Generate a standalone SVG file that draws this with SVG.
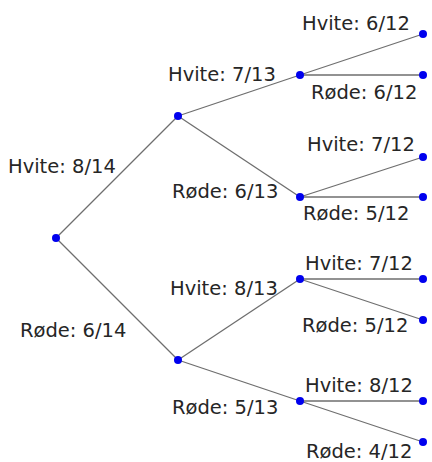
<svg xmlns="http://www.w3.org/2000/svg" width="432" height="462" viewBox="0 0 432 462">
  <style>
    .edge { stroke: #6e6e6e; stroke-width: 1.3; fill: none; }
    .dot { fill: #0000ee; }
    .lbl { font-family: "DejaVu Sans", sans-serif; font-size: 19.5px; fill: #262626; }
  </style>
  <rect width="432" height="462" fill="#fff"/>
  <g id="connectors">
    <line class="edge" x1="56" y1="238" x2="178" y2="116"/>
    <line class="edge" x1="56" y1="238" x2="178" y2="360"/>
    <line class="edge" x1="178" y1="116" x2="300" y2="75"/>
    <line class="edge" x1="178" y1="116" x2="300" y2="197"/>
    <line class="edge" x1="178" y1="360" x2="300" y2="279"/>
    <line class="edge" x1="178" y1="360" x2="300" y2="401"/>
    <line class="edge" x1="300" y1="75" x2="423" y2="34"/>
    <line class="edge" x1="300" y1="75" x2="423" y2="75"/>
    <line class="edge" x1="300" y1="197" x2="423" y2="157"/>
    <line class="edge" x1="300" y1="197" x2="423" y2="197"/>
    <line class="edge" x1="300" y1="279" x2="423" y2="279"/>
    <line class="edge" x1="300" y1="279" x2="423" y2="320"/>
    <line class="edge" x1="300" y1="401" x2="423" y2="401"/>
    <line class="edge" x1="300" y1="401" x2="423" y2="442"/>
  </g>
  <g id="labels">
    <text class="lbl" x="8" y="173">Hvite: 8/14</text>
    <text class="lbl" x="20" y="337">Røde: 6/14</text>
    <text class="lbl" x="168" y="81">Hvite: 7/13</text>
    <text class="lbl" x="172" y="198">Røde: 6/13</text>
    <text class="lbl" x="170" y="295">Hvite: 8/13</text>
    <text class="lbl" x="172" y="414">Røde: 5/13</text>
    <text class="lbl" x="302" y="30">Hvite: 6/12</text>
    <text class="lbl" x="311" y="99">Røde: 6/12</text>
    <text class="lbl" x="307" y="151">Hvite: 7/12</text>
    <text class="lbl" x="303" y="220">Røde: 5/12</text>
    <text class="lbl" x="305" y="270">Hvite: 7/12</text>
    <text class="lbl" x="302" y="332">Røde: 5/12</text>
    <text class="lbl" x="305" y="392">Hvite: 8/12</text>
    <text class="lbl" x="306" y="458">Røde: 4/12</text>
  </g>
  <g id="n0"><circle class="dot" cx="56" cy="238" r="4"/></g>
  <g id="n1"><circle class="dot" cx="178" cy="116" r="4"/></g>
  <g id="n2"><circle class="dot" cx="178" cy="360" r="4"/></g>
  <g id="n3"><circle class="dot" cx="300" cy="75" r="4"/></g>
  <g id="n4"><circle class="dot" cx="300" cy="197" r="4"/></g>
  <g id="n5"><circle class="dot" cx="300" cy="279" r="4"/></g>
  <g id="n6"><circle class="dot" cx="300" cy="401" r="4"/></g>
  <g id="n7"><circle class="dot" cx="423" cy="34" r="4"/></g>
  <g id="n8"><circle class="dot" cx="423" cy="75" r="4"/></g>
  <g id="n9"><circle class="dot" cx="423" cy="157" r="4"/></g>
  <g id="n10"><circle class="dot" cx="423" cy="197" r="4"/></g>
  <g id="n11"><circle class="dot" cx="423" cy="279" r="4"/></g>
  <g id="n12"><circle class="dot" cx="423" cy="320" r="4"/></g>
  <g id="n13"><circle class="dot" cx="423" cy="401" r="4"/></g>
  <g id="n14"><circle class="dot" cx="423" cy="442" r="4"/></g>
</svg>
